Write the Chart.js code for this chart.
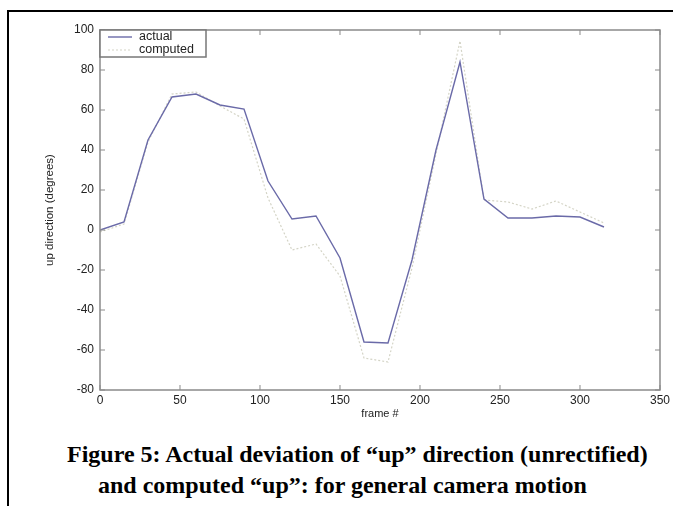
<!DOCTYPE html>
<html>
<head>
<meta charset="utf-8">
<script src="https://cdn.jsdelivr.net/npm/chart.js@4/dist/chart.umd.min.js"></script>
<style>
    body {
        margin: 0;
        background: #fff;
        width: 673px;
        height: 506px;
        overflow: hidden;
        position: relative;
    }
    #frame-top {
        position: absolute;
        left: 7px;
        top: 10px;
        width: 666px;
        height: 2px;
        background: #000;
    }
    #frame-left {
        position: absolute;
        left: 7px;
        top: 10px;
        width: 2px;
        height: 496px;
        background: #000;
    }
    #chart {
        position: absolute;
        left: 0;
        top: 0;
    }
    .caption {
        position: absolute;
        font-family: "Liberation Serif", "Times New Roman", serif;
        font-weight: bold;
        font-size: 24px;
        line-height: 26px;
        color: #000;
        white-space: nowrap;
    }
    #cap1 {
        left: 67px;
        top: 441px;
    }
    #cap2 {
        left: 98px;
        top: 472px;
    }
</style>
</head>
<body>
<div id="frame-top"></div>
<div id="frame-left"></div>
<canvas id="chart" width="673" height="421"></canvas>
<div class="caption" id="cap1">Figure 5: Actual deviation of “up” direction (unrectified)</div>
<div class="caption" id="cap2">and computed “up”: for general camera motion</div>
<script>
// frame numbers and the two curves
const frames = [0, 15, 30, 45, 60, 75, 90, 105, 120, 135, 150, 165, 180, 195, 210, 225, 240, 255, 270, 285, 300, 315];
const actual = [0, 4, 45, 66.5, 68, 62.5, 60.5, 24.5, 5.5, 7, -14, -56, -56.5, -15, 40, 84, 15.5, 6, 6, 7, 6.5, 1.5];
const computed = [-1, 3, 44, 68, 69, 62, 55.5, 16, -10, -7, -23, -64, -66, -19, 38, 94.5, 15, 14, 10.5, 14.5, 9, 3.5];

const xTicks = [0, 50, 100, 150, 200, 250, 300, 350];
const yTicks = [-80, -60, -40, -20, 0, 20, 40, 60, 80, 100];

const seriesNames = ['actual', 'computed'];
const seriesColors = ['#6a6aa8', '#d4d4c6'];

const axisColor = '#8a8a8a';
const sans = 'Liberation Sans, Arial, sans-serif';
const labelFont = { family: sans, size: 12 };

function toPoints(ys) {
    return frames.map((f, i) => ({ x: f, y: ys[i] }));
}

// MATLAB-style box with inward ticks and a boxed legend in the top-left corner
const matlabBox = {
    id: 'matlabBox',
    afterDraw(chart) {
        const ctx = chart.ctx;
        const area = chart.chartArea;
        const xs = chart.scales.x;
        const ys = chart.scales.y;
        ctx.save();
        ctx.strokeStyle = axisColor;
        ctx.lineWidth = 1.5;
        ctx.strokeRect(area.left, area.top, area.right - area.left, area.bottom - area.top);

        ctx.lineWidth = 1;
        const len = 5;
        xs.ticks.forEach(t => {
            const px = xs.getPixelForValue(t.value);
            ctx.beginPath();
            ctx.moveTo(px, area.bottom);
            ctx.lineTo(px, area.bottom - len);
            ctx.moveTo(px, area.top);
            ctx.lineTo(px, area.top + len);
            ctx.stroke();
        });
        ys.ticks.forEach(t => {
            const py = ys.getPixelForValue(t.value);
            ctx.beginPath();
            ctx.moveTo(area.left, py);
            ctx.lineTo(area.left + len, py);
            ctx.moveTo(area.right, py);
            ctx.lineTo(area.right - len, py);
            ctx.stroke();
        });

        // legend
        const bx = area.left, by = area.top, bw = 106, bh = 27;
        ctx.fillStyle = '#fff';
        ctx.fillRect(bx, by, bw, bh);
        ctx.strokeStyle = '#777';
        ctx.lineWidth = 1.5;
        ctx.strokeRect(bx, by, bw, bh);
        ctx.font = '12.5px "Liberation Sans", Arial, sans-serif';
        ctx.textBaseline = 'middle';
        chart.data.datasets.forEach((ds, i) => {
            const ly = by + 7 + i * 13;
            ctx.strokeStyle = ds.borderColor;
            ctx.lineWidth = ds.borderWidth;
            ctx.setLineDash(ds.borderDash || []);
            ctx.beginPath();
            ctx.moveTo(bx + 8, ly);
            ctx.lineTo(bx + 32, ly);
            ctx.stroke();
            ctx.setLineDash([]);
            ctx.fillStyle = '#222';
            ctx.fillText(ds.label, bx + 39, ly);
        });
        ctx.restore();
    }
};

new Chart(document.getElementById('chart'), {
    type: 'line',
    data: {
        datasets: [
            {
                label: seriesNames[0],
                data: toPoints(actual),
                borderColor: seriesColors[0],
                borderWidth: 1.4,
                pointRadius: 0,
                tension: 0,
                order: 1
            },
            {
                label: seriesNames[1],
                data: toPoints(computed),
                borderColor: seriesColors[1],
                borderWidth: 1.2,
                borderDash: [2, 2],
                pointRadius: 0,
                tension: 0,
                order: 2
            }
        ]
    },
    options: {
        responsive: false,
        animation: false,
        devicePixelRatio: 1,
        layout: {
            padding: { left: 0, top: 30, right: 12, bottom: 0 }
        },
        plugins: {
            legend: { display: false },
            tooltip: { enabled: false }
        },
        scales: {
            x: {
                type: 'linear',
                min: 0,
                max: 350,
                afterBuildTicks: scale => { scale.ticks = xTicks.map(v => ({ value: v })); },
                afterFit: scale => { scale.height = 31; },
                grid: { display: false, drawTicks: false },
                border: { display: false },
                ticks: { color: '#222', font: labelFont, padding: 3, maxRotation: 0 },
                title: {
                    display: true,
                    text: 'frame #',
                    color: '#222',
                    font: { family: sans, size: 11 },
                    padding: { top: 0, bottom: 0 }
                }
            },
            y: {
                min: -80,
                max: 100,
                afterBuildTicks: scale => { scale.ticks = yTicks.map(v => ({ value: v })); },
                afterFit: scale => { scale.width = 100; },
                grid: { display: false, drawTicks: false },
                border: { display: false },
                ticks: { color: '#222', font: labelFont, padding: 6 },
                title: {
                    display: true,
                    text: 'up direction (degrees)',
                    color: '#222',
                    font: { family: sans, size: 11.5 },
                    padding: { top: 43, bottom: 0 }
                }
            }
        }
    },
    plugins: [matlabBox]
});
</script>
</body>
</html>
